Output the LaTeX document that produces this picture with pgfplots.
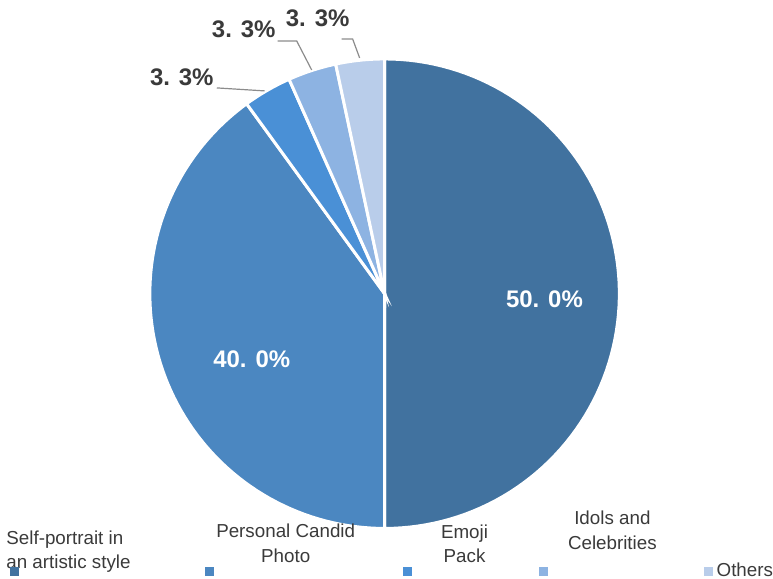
\documentclass[border=0pt]{standalone}
\usepackage{pgfplots}
\pgfplotsset{compat=1.18}
\usepackage{fontspec}
\setmainfont{Liberation Sans}
\definecolor{cA}{HTML}{41729F}
\definecolor{cB}{HTML}{4B87C1}
\definecolor{cC}{HTML}{4A90D6}
\definecolor{cD}{HTML}{8DB3E2}
\definecolor{cE}{HTML}{B9CDEA}
\definecolor{txt}{HTML}{3A3A3A}
\definecolor{lead}{HTML}{8C8C8C}
% slice values (percent)
\def\vA{50}\def\vB{40}\def\vC{3.33}\def\vD{3.33}\def\vE{3.34}
\pgfmathsetmacro{\aA}{90}
\pgfmathsetmacro{\aB}{90-3.6*\vA}
\pgfmathsetmacro{\aC}{\aB-3.6*\vB}
\pgfmathsetmacro{\aD}{\aC-3.6*\vC}
\pgfmathsetmacro{\aE}{\aD-3.6*\vD}
\pgfmathsetmacro{\aF}{\aE-3.6*\vE}
\begin{document}
\begin{tikzpicture}[every node/.append style={inner sep=0pt, outer sep=0pt}]
\begin{axis}[scale only axis, width=386.5pt, height=289.5pt,
  xmin=0, xmax=773, ymin=0, ymax=579, hide axis, clip=false]
\path (axis cs:0,0) rectangle (axis cs:773,579);
\def\cx{385}\def\cy{285}\def\r{235}
\addplot[fill=cA, draw=white, line width=1.5pt, domain=\aB:\aA, samples=90, variable=\t]
  ({\cx+\r*cos(t)},{\cy+\r*sin(t)}) -- (axis cs:\cx,\cy) -- cycle;
\addplot[fill=cB, draw=white, line width=1.5pt, domain=\aC:\aB, samples=80, variable=\t]
  ({\cx+\r*cos(t)},{\cy+\r*sin(t)}) -- (axis cs:\cx,\cy) -- cycle;
\addplot[fill=cC, draw=white, line width=1.5pt, domain=\aD:\aC, samples=12, variable=\t]
  ({\cx+\r*cos(t)},{\cy+\r*sin(t)}) -- (axis cs:\cx,\cy) -- cycle;
\addplot[fill=cD, draw=white, line width=1.5pt, domain=\aE:\aD, samples=12, variable=\t]
  ({\cx+\r*cos(t)},{\cy+\r*sin(t)}) -- (axis cs:\cx,\cy) -- cycle;
\addplot[fill=cE, draw=white, line width=1.5pt, domain=\aF:\aE, samples=12, variable=\t]
  ({\cx+\r*cos(t)},{\cy+\r*sin(t)}) -- (axis cs:\cx,\cy) -- cycle;
% inner labels
\node[anchor=base, text=white, font=\fontsize{12}{14}\selectfont\bfseries] at (axis cs:545,271) {50. 0\%};
\node[anchor=base, text=white, font=\fontsize{12}{14}\selectfont\bfseries] at (axis cs:252,211) {40. 0\%};
% outer labels
\node[anchor=base, text=txt, font=\fontsize{12}{14}\selectfont\bfseries] at (axis cs:182,493) {3. 3\%};
\node[anchor=base, text=txt, font=\fontsize{12}{14}\selectfont\bfseries] at (axis cs:244,541) {3. 3\%};
\node[anchor=base, text=txt, font=\fontsize{12}{14}\selectfont\bfseries] at (axis cs:318,552) {3. 3\%};
\draw[lead, line width=0.6pt] (axis cs:217,491) -- (axis cs:265,488);
\draw[lead, line width=0.6pt] (axis cs:278,538) -- (axis cs:297,538) -- (axis cs:312,509);
\draw[lead, line width=0.6pt] (axis cs:342,540) -- (axis cs:353,540) -- (axis cs:360,521);
% legend
\begin{scope}[every node/.style={text=txt, inner sep=0pt, font=\fontsize{9.4}{11}\selectfont}]
\node[anchor=base west] at (axis cs:6,34) {Self-portrait in};
\node[anchor=base west] at (axis cs:6,10) {an artistic style};
\node[anchor=base] at (axis cs:286,41) {Personal Candid};
\node[anchor=base] at (axis cs:286,16) {Photo};
\node[anchor=base] at (axis cs:465,40) {Emoji};
\node[anchor=base] at (axis cs:465,16) {Pack};
\node[anchor=base] at (axis cs:613,54) {Idols and};
\node[anchor=base] at (axis cs:613,29) {Celebrities};
\node[anchor=base west] at (axis cs:717,2) {Others};
\end{scope}
\fill[cA] (axis cs:10,2) rectangle (axis cs:19,11);
\fill[cB] (axis cs:205,2) rectangle (axis cs:214,11);
\fill[cC] (axis cs:403,2) rectangle (axis cs:412,11);
\fill[cD] (axis cs:540,2) rectangle (axis cs:549,11);
\fill[cE] (axis cs:705,2) rectangle (axis cs:714,11);
\end{axis}
\end{tikzpicture}
\end{document}
